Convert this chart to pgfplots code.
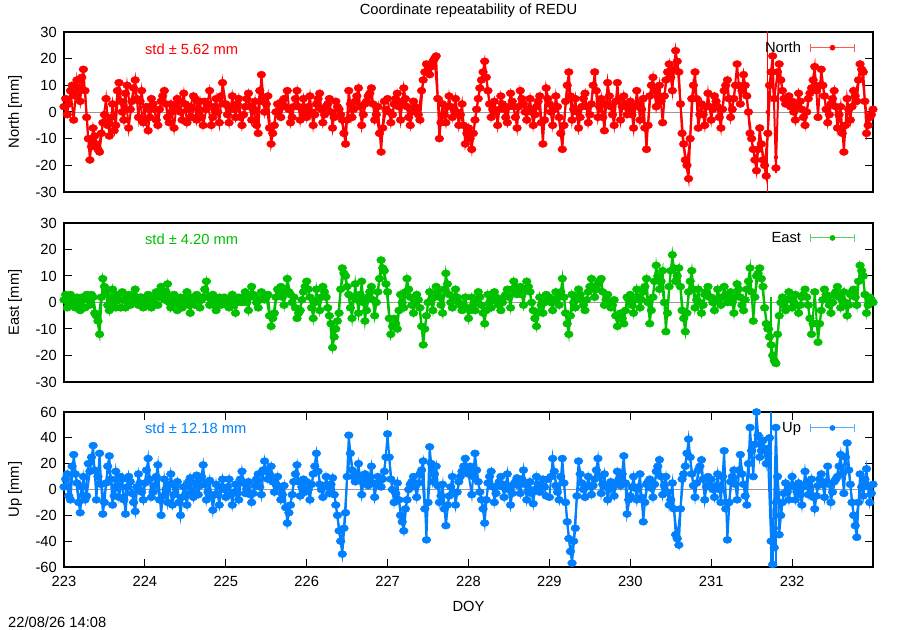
\documentclass[border=0pt]{standalone}
\usepackage{fontspec}
\setmainfont{Liberation Sans}
\usepackage{pgfplots}
\usepackage{pgfplotstable}
\pgfplotsset{compat=1.18}
\definecolor{nred}{RGB}{255,0,0}
\definecolor{egreen}{RGB}{0,192,0}
\definecolor{ublue}{RGB}{0,128,255}
\newcommand\gf{\fontsize{14.7bp}{17bp}\selectfont}
\pgfplotstableread{
x N E U
223.00 2 1 2
223.04 -1 -2 12
223.08 8 3 -8
223.12 -3 0 27
223.16 12 2 5
223.20 4 -3 -18
223.24 16 1 10
223.28 -2 3 -5
223.32 -18 -1 14
223.36 -6 2 34
223.40 -12 -5 -8
223.44 -15 -12 28
223.48 -4 9 -19
223.52 5 4 5
223.56 -9 -3 26
223.60 3 5 -12
223.64 -5 -2 14
223.68 11 1 -6
223.72 0 4 8
223.76 7 -2 -19
223.80 -6 3 10
223.84 4 0 -3
223.88 12 5 -17
223.92 -2 -1 12
223.96 8 2 -2
224.00 -3 0 5
224.04 -7 3 24
224.08 5 -2 -6
224.12 1 2 3
224.16 -5 -1 19
224.20 4 6 -20
224.24 8 1 8
224.28 -2 7 -10
224.32 3 -2 12
224.36 -6 3 -4
224.40 5 -3 6
224.44 0 2 -20
224.48 7 0 2
224.52 -4 4 -12
224.56 2 -4 9
224.60 6 1 -6
224.64 -3 3 11
224.68 4 -2 3
224.72 -5 2 19
224.76 1 8 -8
224.80 8 -1 7
224.84 -2 3 -16
224.88 5 -3 4
224.92 -4 2 -12
224.96 11 0 8
225.00 3 1 -6
225.04 -4 -2 8
225.08 6 3 -12
225.12 -2 -4 4
225.16 5 2 -8
225.20 -5 0 14
225.24 2 4 -3
225.28 7 -3 6
225.32 -3 6 -10
225.36 4 2 3
225.40 -8 -2 12
225.44 14 4 -4
225.48 0 1 22
225.52 6 3 8
225.56 -12 -9 18
225.60 -5 -4 -2
225.64 3 5 10
225.68 -2 6 -8
225.72 5 -1 3
225.76 8 9 -26
225.80 -4 3 -12
225.84 2 2 6
225.88 8 -6 19
225.92 -3 -3 -5
225.96 5 4 8
226.00 -2 8 6
226.04 6 2 -8
226.08 -5 -6 12
226.12 3 5 28
226.16 7 -3 4
226.20 -4 6 -6
226.24 2 2 10
226.28 5 -5 -3
226.32 -6 -17 9
226.36 4 -10 -12
226.40 1 -4 -32
226.44 -3 13 -50
226.48 -12 10 -18
226.52 8 3 42
226.56 -2 -6 15
226.60 4 7 6
226.64 9 -4 20
226.68 -5 8 -4
226.72 3 -7 12
226.76 6 2 3
226.80 9 6 18
226.84 -3 -5 -6
226.88 2 4 10
226.92 -15 16 2
226.96 4 12 14
227.00 5 4 43
227.04 -4 -12 8
227.08 3 -6 -10
227.12 7 -10 5
227.16 -3 3 -20
227.20 9 -2 -32
227.24 2 9 -8
227.28 -5 2 4
227.32 4 -4 10
227.36 1 3 -6
227.40 -3 -2 12
227.44 12 -16 22
227.48 18 -5 -39
227.52 14 4 33
227.56 19 -3 6
227.60 21 6 18
227.64 -10 2 -10
227.68 3 -4 4
227.72 -4 11 -28
227.76 6 3 -5
227.80 -2 -2 10
227.84 5 5 -12
227.88 -5 0 6
227.92 3 -3 14
227.96 -12 2 24
228.00 -6 -6 12
228.04 -14 2 -4
228.08 -3 -3 28
228.12 5 4 6
228.16 12 -1 -8
228.20 19 -8 -26
228.24 8 3 5
228.28 -2 -2 14
228.32 4 4 -10
228.36 -5 0 3
228.40 6 -3 10
228.44 1 2 -6
228.48 -4 5 12
228.52 7 -2 -12
228.56 2 8 4
228.60 -6 3 9
228.64 8 6 -3
228.68 3 -1 15
228.72 -3 8 -8
228.76 5 4 6
228.80 -5 -3 -11
228.84 2 -9 10
228.88 6 2 -2
228.92 -12 -4 8
228.96 9 3 -5
229.00 3 2 -6
229.04 -5 -3 24
229.08 6 4 3
229.12 -2 -1 -8
229.16 -14 9 24
229.20 4 -4 -10
229.24 15 -12 -38
229.28 -3 3 -57
229.32 5 -2 -30
229.36 -6 5 22
229.40 2 1 5
229.44 7 -3 -6
229.48 -4 4 10
229.52 3 9 -4
229.56 15 2 8
229.60 -2 7 24
229.64 5 9 -3
229.68 -7 -1 12
229.72 11 3 -8
229.76 2 -2 6
229.80 -5 1 -5
229.84 11 -9 14
229.88 -3 -4 3
229.92 6 -8 26
229.96 -1 2 -19
230.00 4 3 -5
230.04 -6 -4 10
230.08 8 5 -8
230.12 -3 -2 12
230.16 5 4 -25
230.20 -14 9 4
230.24 6 -8 8
230.28 13 2 -6
230.32 2 14 14
230.36 10 5 23
230.40 -4 12 -4
230.44 12 -11 10
230.48 18 6 -12
230.52 8 18 5
230.56 23 8 -35
230.60 15 13 -43
230.64 -8 -3 8
230.68 -18 -11 18
230.72 -25 4 39
230.76 5 12 12
230.80 15 -2 -6
230.84 -6 5 15
230.88 3 -4 23
230.92 -5 3 -8
230.96 7 6 10
231.00 -3 2 8
231.04 6 -3 -6
231.08 2 5 12
231.12 -6 -1 -10
231.16 8 6 30
231.20 12 0 -39
231.24 -2 4 6
231.28 5 -4 15
231.32 18 7 -8
231.36 3 2 27
231.40 14 -3 4
231.44 6 5 -12
231.48 -8 13 48
231.52 -14 -7 10
231.56 -22 10 60
231.60 -6 13 25
231.64 -18 6 38
231.68 -24 -8 20
231.72 10 -13 40
231.76 21 -20 -58
231.80 -21 -23 48
231.84 18 -5 -35
231.88 8 2 -10
231.92 3 -3 5
231.96 6 4 -8
232.00 4 -2 10
232.04 -3 3 -8
232.08 7 -4 5
232.12 1 2 -12
232.16 -5 5 14
232.20 5 -1 -4
232.24 9 -12 8
232.28 17 4 -15
232.32 -2 -15 3
232.36 16 -3 12
232.40 6 5 -6
232.44 -4 2 18
232.48 3 -4 -10
232.52 8 3 6
232.56 -6 6 10
232.60 2 -2 27
232.64 -15 4 -3
232.68 5 -5 36
232.72 -3 3 4
232.76 8 5 -20
232.80 4 -1 -37
232.84 18 14 12
232.88 15 10 -5
232.92 -8 -4 16
232.96 -2 2 -10
233.00 1 0 4
}\data
\pgfplotstableread{
x N E U
223.02 5 3 8
223.06 3 -1 -5
223.10 10 2 18
223.14 6 -2 12
223.18 9 0 -10
223.22 13 2 2
223.26 8 -2 -8
223.30 -10 1 20
223.34 -13 3 25
223.38 -9 -4 15
223.42 -14 -7 10
223.46 -8 2 4
223.50 -1 6 -10
223.54 -5 -1 18
223.58 -2 2 8
223.62 -7 0 -5
223.66 8 3 3
223.70 4 -2 10
223.74 -3 1 -8
223.78 10 2 2
223.82 1 -1 6
223.86 9 3 -10
223.90 5 1 2
223.94 4 2 5
223.98 -4 -2 -8
224.02 2 1 15
224.06 -2 -1 8
224.10 3 0 -2
224.14 -3 4 10
224.18 1 2 -8
224.22 6 3 -5
224.26 3 4 0
224.30 -4 0 4
224.34 0 1 -12
224.38 2 -1 2
224.42 4 1 -10
224.46 -3 -2 -6
224.50 3 2 -4
224.54 1 -1 6
224.58 -2 2 -2
224.62 5 -1 5
224.66 1 0 -4
224.70 -2 1 10
224.74 4 5 4
224.78 3 2 -2
224.82 -5 1 -6
224.86 2 -1 -4
224.90 0 1 -4
224.94 6 -1 2
224.98 3 2 0
225.02 -1 -1 2
225.06 2 1 -4
225.10 1 -1 -2
225.14 3 0 -3
225.18 -2 1 8
225.22 -1 2 5
225.26 5 0 1
225.30 2 2 -4
225.34 1 3 -3
225.38 -5 0 8
225.42 8 1 2
225.46 4 2 15
225.50 3 2 14
225.54 -6 -5 12
225.58 -8 -6 6
225.62 0 2 4
225.66 1 4 2
225.70 4 2 -4
225.74 2 5 -14
225.78 1 4 -18
225.82 -2 0 -4
225.86 5 -2 12
225.90 2 -4 6
225.94 1 1 2
225.98 -1 6 -2
226.02 2 5 0
226.06 0 -2 4
226.10 -1 0 18
226.14 5 1 14
226.18 1 2 0
226.22 -1 4 3
226.26 3 -2 2
226.30 0 -8 4
226.34 -2 -13 -4
226.38 2 -7 -20
226.42 -1 5 -40
226.46 -8 11 -30
226.50 -3 6 10
226.54 3 -2 28
226.58 1 2 10
226.62 6 1 12
226.66 2 3 8
226.70 -1 0 5
226.74 4 -3 7
226.78 7 4 10
226.82 3 1 5
226.86 -1 0 4
226.90 -8 9 6
226.94 -6 13 8
226.98 1 7 25
227.02 0 -6 25
227.06 -1 -9 0
227.10 5 -8 -3
227.14 2 -3 -8
227.18 4 0 -25
227.22 5 4 -15
227.26 -2 5 0
227.30 0 -1 6
227.34 2 0 2
227.38 -1 1 5
227.42 8 -9 15
227.46 15 -10 -15
227.50 16 0 -10
227.54 17 1 20
227.58 20 2 12
227.62 5 4 3
227.66 -4 -1 -5
227.70 -1 5 -15
227.74 2 7 -12
227.78 2 0 2
227.82 1 2 -3
227.86 0 2 -2
227.90 -1 -1 10
227.94 -5 -1 18
227.98 -8 -2 15
228.02 -10 -3 18
228.06 -8 -1 10
228.10 1 1 15
228.14 9 2 -2
228.18 15 -4 -15
228.22 13 -3 -8
228.26 3 0 10
228.30 1 1 2
228.34 0 2 -3
228.38 1 -1 6
228.42 3 0 2
228.46 -2 3 4
228.50 2 2 0
228.54 4 5 -3
228.58 -2 6 6
228.62 2 5 3
228.66 5 3 8
228.70 0 5 4
228.74 1 6 -1
228.78 0 0 -3
228.82 -1 -6 0
228.86 4 -4 4
228.90 -4 -1 3
228.94 -3 0 2
228.98 5 1 8
229.02 0 0 10
229.06 1 1 14
229.10 2 2 -2
229.14 -8 4 10
229.18 -5 2 5
229.22 10 -8 -25
229.26 6 -5 -48
229.30 1 0 -40
229.34 0 2 -5
229.38 -2 3 12
229.42 5 -1 0
229.46 2 1 2
229.50 -1 6 3
229.54 10 6 3
229.58 8 5 15
229.62 2 8 10
229.66 -2 4 4
229.70 3 1 2
229.74 6 0 0
229.78 -1 -1 1
229.82 4 -5 5
229.86 5 -6 8
229.90 2 -6 12
229.94 3 -3 5
229.98 1 1 -8
230.02 -1 -1 2
230.06 2 1 1
230.10 3 2 2
230.14 1 1 -6
230.18 -6 6 -10
230.22 -5 0 6
230.26 10 -3 1
230.30 8 8 4
230.34 6 10 18
230.38 4 8 10
230.42 6 0 3
230.46 15 -4 -2
230.50 13 12 -8
230.54 16 13 -15
230.58 19 10 -38
230.62 3 6 -15
230.66 -12 -6 12
230.70 -20 -4 28
230.74 -10 8 25
230.78 10 5 3
230.82 5 1 5
230.86 -1 0 18
230.90 -1 -1 8
230.94 2 4 2
230.98 2 2 3
231.02 1 0 0
231.06 4 1 3
231.10 -2 2 0
231.14 1 2 10
231.18 10 3 -15
231.22 5 2 -10
231.26 1 0 10
231.30 10 2 4
231.34 10 5 15
231.38 8 -1 12
231.42 10 1 -5
231.46 0 8 20
231.50 -10 4 30
231.54 -18 2 35
231.58 -14 11 42
231.62 -12 9 30
231.66 -20 -2 32
231.70 -8 -10 28
231.74 15 -16 -40
231.78 5 -22 -45
231.82 15 -12 10
231.86 12 0 -20
231.90 5 -1 -3
231.94 4 1 -2
231.98 2 2 2
232.02 0 0 2
232.06 2 -1 -2
232.10 4 -1 -4
232.14 -2 3 2
232.18 0 2 5
232.22 7 -6 2
232.26 12 -8 -6
232.30 8 -8 -5
232.34 10 -8 8
232.38 10 1 4
232.42 1 3 6
232.46 -1 -1 4
232.50 5 0 -2
232.54 2 4 8
232.58 -1 2 18
232.62 -8 1 12
232.66 -5 0 25
232.70 1 -1 15
232.74 2 4 -10
232.78 6 2 -28
232.82 12 8 -10
232.86 16 12 2
232.90 4 3 8
232.94 -5 -1 2
232.98 -1 1 -3
}\dataB
\pgfplotsset{
  /pgf/number format/assume math mode=true,
  /pgf/number format/1000 sep={},
  panel/.style={
    scale only axis, width=809bp, anchor=south west,
    xmin=223, xmax=233,
    axis line style={line width=1.3bp},
    tick align=inside, tick pos=both,
    xticklabel pos=left, yticklabel pos=left,
    major tick length=8bp,
    every tick/.style={black, line width=1bp},
    yticklabel style={anchor=east, inner sep=0pt, xshift=-7bp},
    xticklabel style={anchor=base, inner sep=0pt, yshift=-19.7bp},
    every axis y label/.style={at={(axis description cs:0,0.5)}, xshift=-49bp, anchor=center, rotate=90},
    legend plot pos=right,
    legend style={draw=none, fill=none, inner sep=0pt, outer sep=0pt, anchor=east,
      nodes={inner sep=0pt}, column sep=9bp},
  },
  series/.style={#1, line width=2bp, mark=*, mark size=3.5bp,
    mark options={xscale=1.25, line width=0.5bp}, forget plot},
  bigerr/.style={color=#1, only marks, mark=none, forget plot,
    error bars/.cd, y dir=both, y explicit, error mark=none,
    error bar style={color=#1, line width=1.2bp}},
  legimg/.style={legend image code/.code={
    \draw[#1!65, line width=1bp] (0bp,0bp) -- (44bp,0bp);
    \draw[#1!65, line width=1bp] (0bp,-4bp) -- (0bp,4bp) (44bp,-4bp) -- (44bp,4bp);
    \fill[#1] (22bp,0bp) circle (2.6bp);}},
}
\begin{document}
\begin{tikzpicture}[font=\gf]
\path[use as bounding box] (0,0) rectangle (900bp,630bp);
\node[anchor=base] at (468.5bp,615bp) {Coordinate repeatability of REDU};
\node[anchor=base west, inner sep=0pt] at (8bp,2.5bp) {22/08/26 14:08};

% North
\begin{axis}[panel, at={(64bp,438bp)}, height=160bp,
  ymin=-30, ymax=30, ytick={-30,-20,...,30}, xtick=\empty,
  ylabel={North [mm]},
  legend style={at={(axis description cs:0.9777,0.902)}}]
\addplot[gray!80, line width=0.7bp, forget plot] coordinates {(223,0) (233,0)};
\addplot[series=nred] table[x=x, y=N] {\dataB};
\addplot[series=nred] table[x=x, y=N] {\data};
\addplot[bigerr=nred] coordinates {(231.70,0) +- (0,40) (231.80,-17) +- (0,6)};
\addlegendimage{legimg=nred}
\addlegendentry{North}
\node[nred, anchor=west, inner sep=0pt] at (axis description cs:0.1,0.894) {std ± 5.62 mm};
\end{axis}

% East
\begin{axis}[panel, at={(64bp,248bp)}, height=159bp,
  ymin=-30, ymax=30, ytick={-30,-20,...,30}, xtick=\empty,
  ylabel={East [mm]},
  legend style={at={(axis description cs:0.9777,0.906)}}]
\addplot[gray!80, line width=0.7bp, forget plot] coordinates {(223,0) (233,0)};
\addplot[series=egreen] table[x=x, y=E] {\dataB};
\addplot[series=egreen] table[x=x, y=E] {\data};
\addplot[bigerr=egreen] coordinates {(231.74,-10) +- (0,12)};
\addlegendimage{legimg=egreen}
\addlegendentry{East}
\node[egreen, anchor=west, inner sep=0pt] at (axis description cs:0.1,0.8975) {std ± 4.20 mm};
\end{axis}

% Up
\begin{axis}[panel, at={(64bp,63bp)}, height=155bp,
  ymin=-60, ymax=60, ytick={-60,-40,...,60}, xtick={223,224,...,232},
  ylabel={Up [mm]}, xlabel={DOY},
  xlabel style={at={(axis description cs:0.5,0)}, anchor=base, yshift=-44bp},
  legend style={at={(axis description cs:0.9777,0.897)}}]
\addplot[gray!80, line width=0.7bp, forget plot] coordinates {(223,0) (233,0)};
\addplot[series=ublue] table[x=x, y=U] {\dataB};
\addplot[series=ublue] table[x=x, y=U] {\data};
\addplot[bigerr=ublue] coordinates {(231.47,30) +- (0,20) (231.74,-10) +- (0,70) (231.80,-30) +- (0,45)};
\addlegendimage{legimg=ublue}
\addlegendentry{Up}
\node[ublue, anchor=west, inner sep=0pt] at (axis description cs:0.1,0.895) {std ± 12.18 mm};
\end{axis}
\end{tikzpicture}
\end{document}
